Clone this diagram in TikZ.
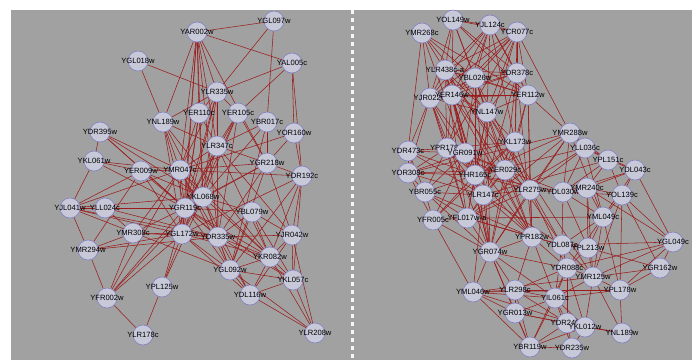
\documentclass[tikz,border=0pt]{standalone}
\usepackage{fontspec}
\setmainfont{Liberation Sans}
\usetikzlibrary{backgrounds}
\definecolor{panelgray}{RGB}{161,161,161}
\definecolor{linkred}{RGB}{155,28,28}
\definecolor{genefill}{RGB}{200,201,216}
\definecolor{genedraw}{RGB}{128,128,196}
\pgfdeclarelayer{edges}
\pgfsetlayers{edges,main}
\tikzset{
  gene/.style={
    circle, draw=genedraw, fill=genefill, line width=0.6pt,
    minimum size=20pt, inner sep=0pt,
  },
  genetext/.style={
    font=\fontsize{7.6}{8}\selectfont, text=black, inner sep=0pt,
  },
  link/.style={linkred, line width=0.55pt},
}

\begin{document}
\begin{tikzpicture}[x=1pt,y=-1pt]
\useasboundingbox (0,0) rectangle (697,360);
\begin{pgfonlayer}{edges}
\fill[panelgray] (11,10) rectangle (692,360);
\draw[white!90!panelgray, line width=3pt, dash pattern=on 4pt off 4pt] (352,10) -- (352,360);
\end{pgfonlayer}
% left panel
\foreach \name/\px/\py/\txt in {
  yar002w/197/32/YAR002w, ygl097w/274/21/YGL097w, ygl018w/138/61/YGL018w,
  yal005c/292/63/YAL005c, ylr335w/217/92/YLR335w, yer110c/199/113/YER110c,
  yer105c/238/113/YER105c, ybr017c/267/122/YBR017c, ynl189w/163/122/YNL189w,
  yor160w/294/133/YOR160w, ydr395w/100/132/YDR395w, ylr347c/217/146/YLR347c,
  ykl061w/94/161/YKL061w, yer009w/141/171/YER009w, ymr047c/180/170/YMR047c,
  ygr218w/267/163/YGR218w, ydr192c/302/176/YDR192c, ykl068w/203/197/YKL068w,
  yjl041w/70/208/YJL041w, yll024c/105/208/YLL024c, ygr119c/185/208/YGR119c,
  ybl079w/252/212/YBL079w, ymr308c/133/233/YMR308c, ygl172w/182/234/YGL172w,
  ydr335w/218/237/YDR335w, yjr042w/292/235/YJR042w, ymr294w/88/250/YMR294w,
  ykr082w/270/257/YKR082w, ygl092w/230/270/YGL092w, ykl057c/293/280/YKL057c,
  ypl125w/162/287/YPL125w, yfr002w/107/298/YFR002w, ydl116w/250/295/YDL116w,
  ylr178c/143/335/YLR178c, ylr208w/315/333/YLR208w}
  \node[gene, label={[genetext]center:\txt}] (\name) at (\px,\py) {};
% right panel
\foreach \name/\px/\py/\txt in {
  ymr268c/422/33/YMR268c, yol149w/453/20/YOL149w, yjl124c/490/25/YJL124c,
  ycr077c/517/32/YCR077c, ylr438c/445/70/YLR438c-a, ybl026w/475/78/YBL026w,
  ydr378c/517/73/YDR378c, yjr022w/430/98/YJR022w, yer146w/452/95/YER146w,
  yer112w/528/95/YER112w, ynl147w/487/112/YNL147w, ymr288w/570/133/YMR288w,
  ykl173w/515/142/YKL173w, ydr473c/408/151/YDR473c, ypr178w/447/148/YPR178w,
  ygr091w/465/153/YGR091w, yll036c/585/148/YLL036c, ypl151c/608/160/YPL151c,
  ydl043c/635/170/YDL043c, yor308c/408/173/YOR308c, yhr165c/475/175/YHR165c,
  yer029c/505/170/YER029c, ybr055c/425/192/YBR055c, ylr147c/483/195/YLR147c,
  ylr275w/530/190/YLR275w, ydl030w/563/192/YDL030w, ymr240c/587/188/YMR240c,
  yol139c/622/195/YOL139c, yfr005c/433/220/YFR005c, yfl017w/467/218/YFL017w-a,
  yml049c/603/217/YML049c, ypr182w/532/237/YPR182w, ydl087c/562/245/YDL087c,
  ypl213w/588/248/YPL213w, ygr074w/490/252/YGR074w, ygl049c/673/242/YGL049c,
  ydr088c/567/268/YDR088c, ymr125w/593/277/YMR125w, ygr162w/660/268/YGR162w,
  ypl178w/620/290/YPL178w, yml046w/473/292/YML046w, ylr298c/515/290/YLR298c,
  yil061c/555/298/YIL061c, ygr013w/515/313/YGR013w, ydr240c/567/323/YDR240c,
  ykl012w/585/327/YKL012w, ynl189wb/622/333/YNL189w, ybr119w/530/347/YBR119w,
  ydr235w/572/348/YDR235w}
  \node[gene, label={[genetext]center:\txt}] (\name) at (\px,\py) {};
\begin{pgfonlayer}{edges}
% interactions, left
\foreach \a/\b in {
  yar002w/ygl097w, yar002w/yal005c, yar002w/ylr335w, yar002w/yer110c, yar002w/ynl189w,
  yar002w/ylr347c, yar002w/ymr047c, yar002w/ygr119c, yar002w/ykl068w, yar002w/ygl172w,
  yar002w/ydr335w, yar002w/ygr218w, ygl097w/ylr335w, ygl097w/ybr017c,
  ygl018w/ylr335w, ygl018w/ynl189w, yal005c/ylr335w, yal005c/yor160w, yal005c/ydr192c,
  yal005c/yer105c, ylr335w/ynl189w, ylr335w/yer110c, ylr335w/yer105c, ylr335w/ylr347c,
  ylr335w/ymr047c, ylr335w/ygr119c, ylr335w/ykl068w, ylr335w/ygl172w, ylr335w/ydr335w,
  yer110c/ylr347c, yer110c/ymr047c, yer110c/ygr119c, yer110c/ygl172w, yer110c/ykl068w,
  yer105c/ylr347c, yer105c/ygr218w, yer105c/ykl068w, yer105c/ygl172w, yer105c/ygr119c,
  yer105c/ydr335w, ybr017c/ygr218w, ybr017c/ylr347c, ybr017c/ykl068w, ybr017c/ygl092w,
  ynl189w/ymr047c, ynl189w/ygr119c, ynl189w/ykl068w, ynl189w/ylr347c, ynl189w/ykr082w,
  ynl189w/ygl172w, yor160w/ygr218w, yor160w/ydr192c, yor160w/ymr047c,
  ydr395w/ykl061w, ydr395w/ymr047c, ydr395w/ygr119c, ydr395w/ykl068w, ydr395w/ydr335w,
  ylr347c/ymr047c, ylr347c/ygr119c, ylr347c/ykl068w, ylr347c/ygl172w, ylr347c/ydr335w,
  ylr347c/ygr218w, ylr347c/ykr082w, ylr347c/yjr042w, ykl061w/yer009w, ykl061w/yjl041w,
  ykl061w/ymr047c, ykl061w/ygr119c, yer009w/ymr047c, yer009w/ykl068w, yer009w/ygl172w,
  yer009w/yjl041w, yer009w/ygr119c, yer009w/ymr294w, ymr047c/ykl068w, ymr047c/ygr119c,
  ymr047c/ygl172w, ymr047c/ydr335w, ymr047c/yjl041w, ymr047c/ygr218w, ymr047c/ygl092w,
  ymr047c/ykr082w, ymr047c/ydr192c, ymr047c/ymr308c, ygr218w/ydr192c, ygr218w/ykl068w,
  ygr218w/ygr119c, ygr218w/ydr335w, ygr218w/yjr042w, ygr218w/ygl092w, ydr192c/yjr042w,
  ydr192c/ykr082w, ydr192c/ykl057c, ydr192c/ygl172w, ydr192c/ygl092w, ykl068w/ygr119c,
  ykl068w/ygl172w, ykl068w/ydr335w, ykl068w/ybl079w, ykl068w/ygl092w, ykl068w/ykr082w,
  ykl068w/yjl041w, ykl068w/ydl116w, yjl041w/yll024c, yjl041w/ygr119c, yjl041w/ygl172w,
  yjl041w/ymr294w, yjl041w/ydr335w, yjl041w/ygl092w, yll024c/ygr119c, yll024c/ymr308c,
  yll024c/ydr335w, ygr119c/ygl172w, ygr119c/ydr335w, ygr119c/ybl079w, ygr119c/ygl092w,
  ygr119c/ykr082w, ygr119c/ykl057c, ygr119c/ymr308c, ybl079w/ydr335w, ybl079w/ygl092w,
  ybl079w/ykr082w, ybl079w/yjr042w, ybl079w/ykl057c, ymr308c/ygl172w, ymr308c/ymr294w,
  ymr308c/yfr002w, ymr308c/ydr335w, ygl172w/ydr335w, ygl172w/ygl092w, ygl172w/ykr082w,
  ygl172w/ypl125w, ygl172w/yfr002w, ygl172w/ymr294w, ygl172w/ydl116w, ydr335w/ygl092w,
  ydr335w/ykr082w, ydr335w/yjr042w, ydr335w/ydl116w, ydr335w/ykl057c, yjr042w/ykr082w,
  yjr042w/ykl057c, yjr042w/ylr208w, yjr042w/ydl116w, ymr294w/yfr002w, ymr294w/ydr335w,
  ykr082w/ygl092w, ykr082w/ykl057c, ykr082w/ydl116w, ykr082w/ylr208w, ygl092w/ydl116w,
  ygl092w/ykl057c, ygl092w/ylr208w, ykl057c/ydl116w, ykl057c/ylr208w, ypl125w/ylr178c,
  ypl125w/ygr119c, ypl125w/ykl068w, yfr002w/ylr178c, yfr002w/ygr119c, yfr002w/ykl068w,
  yfr002w/ymr047c, ydl116w/ylr208w}
  \draw[link] (\a) -- (\b);
% interactions, right
\foreach \a/\b in {
  yol149w/yjl124c, yol149w/ycr077c, yol149w/ylr438c, yol149w/ybl026w, yol149w/ydr378c,
  yol149w/yer146w, yol149w/yer112w, yol149w/ynl147w, yol149w/yjr022w,
  yjl124c/ycr077c, yjl124c/ylr438c, yjl124c/ybl026w, yjl124c/ydr378c, yjl124c/yer146w,
  yjl124c/yer112w, yjl124c/ynl147w, yjl124c/yjr022w, ycr077c/ylr438c, ycr077c/ybl026w,
  ycr077c/ydr378c, ycr077c/yer146w, ycr077c/yer112w, ycr077c/ynl147w, ycr077c/yjr022w,
  ylr438c/ybl026w, ylr438c/ydr378c, ylr438c/yer146w, ylr438c/yer112w, ylr438c/ynl147w,
  ylr438c/yjr022w, ybl026w/ydr378c, ybl026w/yer146w, ybl026w/yer112w, ybl026w/ynl147w,
  ybl026w/yjr022w, ydr378c/yer146w, ydr378c/yer112w, ydr378c/ynl147w, ydr378c/yjr022w,
  yer146w/yer112w, yer146w/ynl147w, yer146w/yjr022w, yer112w/ynl147w, yer112w/yjr022w,
  ynl147w/yjr022w, ymr268c/ylr438c, ymr268c/yjr022w, ymr268c/ybl026w, ymr268c/yer112w,
  ymr268c/ynl147w, ymr268c/ydr473c, ymr268c/ygr091w, ycr077c/ymr288w, ycr077c/ykl173w,
  ycr077c/ypr178w, ycr077c/yhr165c, yjl124c/ykl173w, yjl124c/ypr178w, yer112w/ymr288w,
  yer112w/ykl173w, yer112w/ylr275w, yer112w/ygr074w, yer112w/ypr182w, yjr022w/ydr473c,
  yjr022w/yor308c, yjr022w/ypr178w, yjr022w/ylr147c, yjr022w/ygr074w, yjr022w/yfl017w,
  yjr022w/ypr182w, yer146w/ypr178w, yer146w/ygr091w, yer146w/yhr165c, yer146w/ylr147c,
  yer146w/ygr074w, yer146w/yer029c, yer146w/ypr182w, ylr438c/ypr178w, ylr438c/ygr091w,
  ylr438c/yhr165c, ylr438c/ylr275w, ylr438c/ypr182w, ylr438c/yfl017w, ylr438c/ydl087c,
  ybl026w/ygr091w, ybl026w/ylr275w, ybl026w/yhr165c, ybl026w/ygr074w, ybl026w/yer029c,
  ydr378c/ykl173w, ydr378c/yer029c, ydr378c/ylr147c, ydr378c/ypr182w, ynl147w/ykl173w,
  ynl147w/yhr165c, ynl147w/ylr147c, ynl147w/ygr074w, ynl147w/yfl017w, ynl147w/ypr182w,
  ynl147w/ydl087c, ynl147w/ymr125w, ymr288w/yll036c, ymr288w/ypl151c, ymr288w/yhr165c,
  ymr288w/ylr275w, ymr288w/ydl030w, ymr288w/yml049c, ymr288w/yfl017w, ymr288w/ygr074w,
  ymr288w/yor308c, ykl173w/yhr165c, ykl173w/yer029c, ykl173w/ylr147c, ykl173w/ypr178w,
  ykl173w/yfr005c, ykl173w/ygr091w, ykl173w/ylr275w, ydr473c/yor308c, ydr473c/ypr178w,
  ydr473c/ybr055c, ydr473c/ygr091w, ydr473c/yhr165c, ydr473c/ylr147c, ypr178w/ygr091w,
  ypr178w/yhr165c, ypr178w/ybr055c, ypr178w/yor308c, ypr178w/ylr147c, ypr178w/yfl017w,
  ypr178w/yer029c, ypr178w/ylr275w, ygr091w/yhr165c, ygr091w/yor308c, ygr091w/ybr055c,
  ygr091w/ylr147c, ygr091w/yer029c, ygr091w/yfr005c, ygr091w/ygr074w, yll036c/ypl151c,
  yll036c/ydl030w, yll036c/yml049c, yll036c/ylr275w, yll036c/yhr165c, yll036c/yfl017w,
  yll036c/ydl043c, ypl151c/ydl043c, ypl151c/yol139c, ypl151c/ymr240c, ypl151c/ylr147c,
  ypl151c/ydl030w, ydl043c/yol139c, ydl043c/ymr240c, ydl043c/yml049c, ydl043c/ygl049c,
  ydl043c/ydl030w, yor308c/ybr055c, yor308c/yhr165c, yor308c/yer029c, yor308c/ylr147c,
  yor308c/yfr005c, yhr165c/yer029c, yhr165c/ylr147c, yhr165c/ybr055c, yhr165c/ylr275w,
  yhr165c/yfl017w, yhr165c/ygr074w, yhr165c/ypr182w, yhr165c/yfr005c, yhr165c/ydl030w,
  yer029c/ylr147c, yer029c/ylr275w, yer029c/ypr182w, yer029c/yfl017w, yer029c/ygr074w,
  yer029c/ydl030w, ybr055c/ylr147c, ybr055c/yfr005c, ybr055c/yfl017w, ybr055c/ygr074w,
  ybr055c/ypr182w, ylr147c/ylr275w, ylr147c/yfl017w, ylr147c/ypr182w, ylr147c/ygr074w,
  ylr147c/ydl087c, ylr147c/yml046w, ylr275w/ypr182w, ylr275w/yfl017w, ylr275w/ygr074w,
  ylr275w/ydl030w, ylr275w/ydr088c, ydl030w/ymr240c, ydl030w/yml049c, ydl030w/ydl087c,
  ydl030w/ypl213w, ydl030w/yol139c, ymr240c/yol139c, ymr240c/yml049c, ymr240c/ypl213w,
  ymr240c/ygl049c, ymr240c/ymr125w, yol139c/yml049c, yol139c/ygl049c, yol139c/ygr162w,
  yol139c/ypl178w, yol139c/ymr125w, yfr005c/yfl017w, yfr005c/ygr074w, yfr005c/yml046w,
  yfl017w/ypr182w, yfl017w/ygr074w, yfl017w/ydl087c, yfl017w/yml049c, yml049c/ydl087c,
  yml049c/ypl213w, yml049c/ymr125w, yml049c/ypl178w, yml049c/ydr088c, ypr182w/ygr074w,
  ypr182w/ydl087c, ypr182w/ydr088c, ypr182w/yil061c, ypr182w/ylr298c, ydl087c/ypl213w,
  ydl087c/ydr088c, ydl087c/ymr125w, ydl087c/yil061c, ydl087c/ygl049c, ypl213w/ydr088c,
  ypl213w/ymr125w, ypl213w/ygr162w, ygr074w/yml046w, ygr074w/ylr298c, ygr074w/ygr013w,
  ygr074w/ydr088c, ygr074w/yil061c, ygr074w/ybr119w, ygl049c/ymr125w, ygl049c/ypl178w,
  ygl049c/ygr162w, ygl049c/ydr088c, ydr088c/ymr125w, ydr088c/yil061c, ydr088c/ydr240c,
  ydr088c/ykl012w, ydr088c/ylr298c, ydr088c/ybr119w, ymr125w/ypl178w, ymr125w/ygr162w,
  ymr125w/yil061c, ymr125w/ykl012w, ymr125w/yml046w, ygr162w/ypl178w, ypl178w/ynl189wb,
  ypl178w/yil061c, ypl178w/ylr298c, ypl178w/yml046w, yml046w/ylr298c, yml046w/ygr013w,
  yml046w/ybr119w, yml046w/yil061c, yml046w/ykl012w, ylr298c/ygr013w, ylr298c/yil061c,
  ylr298c/ydr240c, ylr298c/ybr119w, yil061c/ygr013w, yil061c/ydr240c, yil061c/ykl012w,
  yil061c/ybr119w, yil061c/ydr235w, ygr013w/ybr119w, ygr013w/ydr240c, ygr013w/ykl012w,
  ydr240c/ykl012w, ydr240c/ybr119w, ydr240c/ydr235w, ydr240c/ynl189wb, ykl012w/ynl189wb,
  ykl012w/ybr119w, ykl012w/ydr235w, ybr119w/ydr235w, ynl189wb/ymr125w}
  \draw[link] (\a) -- (\b);
\end{pgfonlayer}
\end{tikzpicture}
\end{document}
